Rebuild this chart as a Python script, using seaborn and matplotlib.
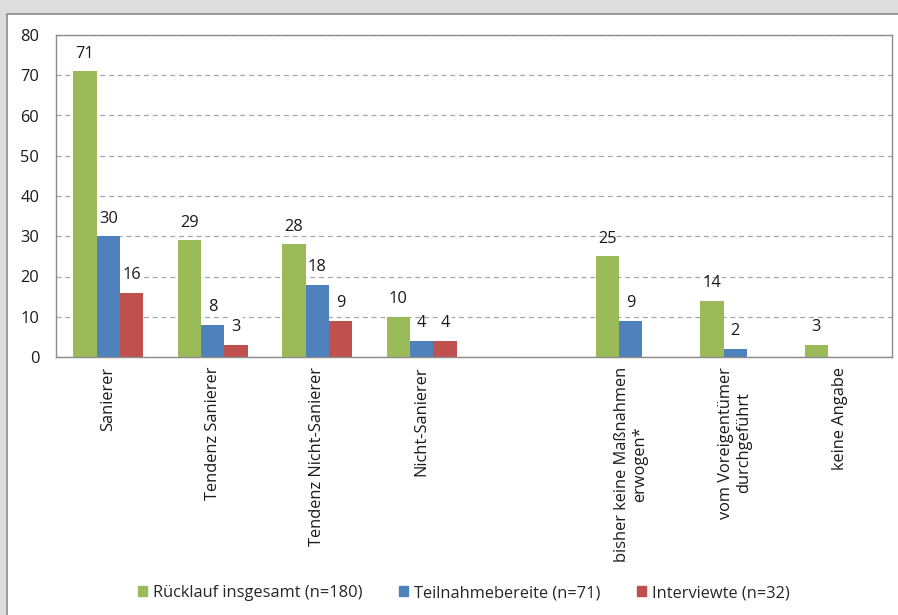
import numpy as np
import pandas as pd
import matplotlib
matplotlib.use("Agg")
import matplotlib.pyplot as plt
import seaborn as sns
from matplotlib.patches import Rectangle

sns.set_style("white")
plt.rcParams["font.family"] = ["Open Sans", "DejaVu Sans"]

# data
categories = ["Sanierer", "Tendenz Sanierer", "Tendenz Nicht-Sanierer", "Nicht-Sanierer",
              " ", "bisher keine Maßnahmen\nerwogen*", "vom Voreigentümer\ndurchgeführt",
              "keine Angabe"]
series = ["Rücklauf insgesamt (n=180)", "Teilnahmebereite (n=71)", "Interviewte (n=32)"]
ruecklauf = [71, 29, 28, 10, np.nan, 25, 14, 3]
teilnahme = [30, 8, 18, 4, np.nan, 9, 2, np.nan]
interviewte = [16, 3, 9, 4, np.nan, np.nan, np.nan, np.nan]
colors = ["#9BBB59", "#4F81BD", "#C0504D"]

rows = []
for s, vals in zip(series, [ruecklauf, teilnahme, interviewte]):
    for c, v in zip(categories, vals):
        rows.append({"Kategorie": c, "Gruppe": s, "Anzahl": v})
df = pd.DataFrame(rows)

fs = 11.8

fig = plt.figure(figsize=(8.98, 6.15), dpi=100)
fig.patch.set_facecolor("#dddddd")
# white chart panel like the office screenshot
fig.patches.append(Rectangle((7 / 898, -0.05), 1.0, 1 - 14 / 615 + 0.05,
                             transform=fig.transFigure, facecolor="white",
                             edgecolor="#8c8c8c", linewidth=1.2, zorder=-10))

ax = fig.add_axes([56 / 898, 1 - 357 / 615, (892 - 56) / 898, (357 - 35) / 615])
ax.set_zorder(5)
sns.barplot(data=df, x="Kategorie", y="Anzahl", hue="Gruppe", order=categories,
            hue_order=series, palette=colors, width=0.67, linewidth=0,
            saturation=1, errorbar=None, ax=ax)

ax.set_ylim(0, 80)
ax.set_yticks(range(0, 81, 10))
ax.set_xlim(-0.5, len(categories) - 0.5)
ax.set_xlabel("")
ax.set_ylabel("")
ax.yaxis.grid(True, linestyle=(0, (4, 3)), color="#a6a6a6", linewidth=0.9)
ax.set_axisbelow(True)
for sp in ax.spines.values():
    sp.set_color("#8c8c8c")
    sp.set_linewidth(1)
ax.tick_params(axis="y", length=0, pad=12, labelsize=fs, colors="#1a1a1a")
ax.tick_params(axis="x", length=0, pad=7, labelsize=fs, colors="#1a1a1a")
plt.setp(ax.get_xticklabels(), rotation=90, ha="center", va="top", multialignment="center")

# value labels
for i, cont in enumerate(ax.containers):
    for bar in cont:
        h = bar.get_height()
        if np.isnan(h) or h == 0:
            continue
        bbox = dict(facecolor="white", edgecolor="none", pad=1.5) if i == 2 else None
        ax.annotate(f"{int(h)}", (bar.get_x() + bar.get_width() / 2, h),
                    xytext=(0, 7), textcoords="offset points", ha="center", va="bottom",
                    fontsize=fs, color="#1a1a1a", bbox=bbox)

ax.get_legend().remove()
handles = [Rectangle((0, 0), 1, 1, color=c) for c in colors]
fig.legend(handles, series, loc="center", bbox_to_anchor=(464 / 898, 1 - 593 / 615),
           ncol=3, frameon=False, fontsize=fs, handlelength=0.55, handleheight=0.55,
           handletextpad=0.4, columnspacing=2.2)

fig.savefig("out.png", dpi=100, facecolor=fig.get_facecolor())
